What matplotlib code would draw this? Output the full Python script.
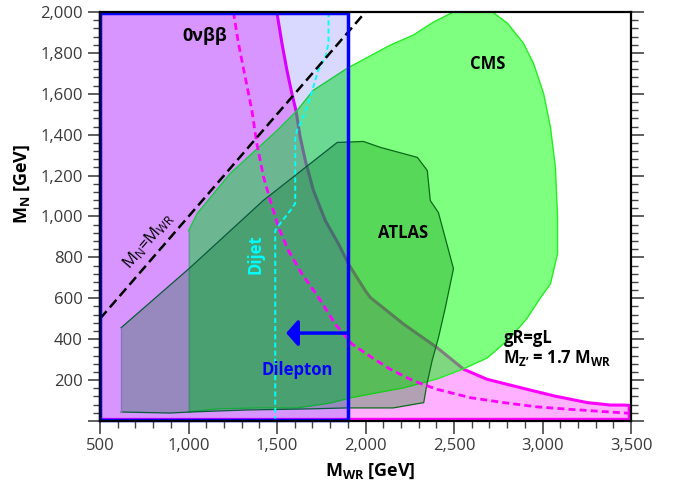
import matplotlib
matplotlib.use("Agg")
import matplotlib.pyplot as plt
from matplotlib.ticker import MultipleLocator, FuncFormatter
from matplotlib.patches import Polygon, Rectangle

plt.rcParams['font.family'] = ['Open Sans', 'DejaVu Sans']
plt.rcParams['mathtext.fontset'] = 'custom'
plt.rcParams['mathtext.rm'] = 'Open Sans'
plt.rcParams['mathtext.bf'] = 'Open Sans:bold'

# 0vbb excluded region, upper boundary (solid magenta)
bb_x = [1499, 1528, 1556, 1584, 1607, 1631, 1660, 1706, 1773, 1848, 1904, 1999, 2027,
        2215, 2404, 2555, 2687, 2876, 3064, 3253, 3385, 3460, 3490]
bb_y = [2000, 1846, 1715, 1601, 1519, 1388, 1274, 1127, 980, 865, 768, 637, 604,
        474, 359, 253, 204, 163, 123, 90, 78, 78, 76]

# dashed magenta curve
bbd_x = [1254, 1282, 1320, 1358, 1386, 1424, 1462, 1508, 1565, 1641, 1735, 1829, 1924,
         2037, 2140, 2272, 2404, 2593, 2781, 2970, 3158, 3347, 3488]
bbd_y = [2000, 1847, 1683, 1519, 1356, 1193, 1078, 948, 833, 719, 604, 474, 376,
         310, 253, 196, 155, 114, 90, 69, 57, 46, 38]

# dijet (cyan dashed)
dijet_x = [1490, 1490, 1518, 1575, 1603, 1603, 1613, 1648, 1688, 1733, 1773, 1791, 1791]
dijet_y = [0, 931, 966, 1029, 1064, 1387, 1421, 1485, 1583, 1715, 1779, 1848, 2000]

# CMS contour
cms_x = [1000, 1000, 1049, 1235, 1501, 1614, 1705, 1897, 2140, 2270, 2383, 2497, 2717,
         2802, 2892, 2949, 3006, 3045, 3073, 3085, 3085, 3045, 2989, 2915, 2819, 2689,
         2553, 2406, 2214, 2027, 1914, 1801, 1614, 1388, 1162]
cms_y = [45, 930, 1014, 1210, 1421, 1519, 1617, 1725, 1838, 1887, 1950, 2000, 2000,
         1945, 1847, 1749, 1602, 1436, 1240, 995, 818, 671, 603, 505, 407, 309,
         255, 206, 162, 132, 113, 88, 64, 64, 59]

# ATLAS contour
atlas_x = [619, 619, 1009, 1422, 1840, 1988, 2084, 2293, 2349, 2366, 2412, 2497, 2451,
           2412, 2376, 2347, 2329, 2157, 1897, 1671, 1331, 1009, 896]
atlas_y = [44, 456, 750, 1078, 1362, 1367, 1338, 1289, 1225, 1078, 1019, 745, 554,
           407, 294, 181, 90, 64, 64, 59, 54, 44, 39]

# dilepton bound and arrow
dilep_x = 1900
arrow_tip = 1552
arrow_y = 430

fig = plt.figure(figsize=(6.73, 4.87), dpi=100)
ax = fig.add_axes([0.1486, 0.1355, 0.789, 0.8399])
ax.set_xlim(500, 3500)
ax.set_ylim(0, 2000)

# pink 0vbb region
pts = [(500, 2000)] + list(zip(bb_x, bb_y)) + [(3490, 8), (500, 8)]
ax.add_patch(Polygon(pts, closed=True, facecolor=(1, 0, 1, 0.31),
                     edgecolor='magenta', lw=2.2, joinstyle='round', zorder=1))

# CMS
ax.add_patch(Polygon(list(zip(cms_x, cms_y)), closed=True, facecolor=(0, 1, 0, 0.5),
                     edgecolor='none', zorder=2))
ax.plot(cms_x[1:] + [cms_x[0]], cms_y[1:] + [cms_y[0]], color='#22ee22', lw=1, zorder=2.1)
ax.plot(cms_x[:2], cms_y[:2], color='#7fb08f', lw=1, zorder=2.1)

# ATLAS
ax.add_patch(Polygon(list(zip(atlas_x, atlas_y)), closed=True, facecolor=(0, 0.5, 0, 0.3),
                     edgecolor='none', zorder=3))
ax.plot(atlas_x[1:] + [atlas_x[0]], atlas_y[1:] + [atlas_y[0]], color='#0a6a1a', lw=0.9, zorder=3.1)
ax.plot(atlas_x[:2], atlas_y[:2], color='#9a8fb0', lw=1, zorder=3.1)

# dilepton box
ax.add_patch(Rectangle((500, 0), dilep_x - 500, 2000, facecolor=(0, 0, 1, 0.15),
                       edgecolor='none', zorder=4))
ax.add_patch(Rectangle((500, 5), dilep_x - 500, 1990, facecolor='none',
                       edgecolor='blue', lw=2.5, zorder=8, clip_on=False))

# lines
ax.plot(bbd_x, bbd_y, color='magenta', lw=2, ls=(0, (2.5, 1.5)), zorder=5)
ax.plot(dijet_x, dijet_y, color='cyan', lw=1.4, ls=(0, (2.6, 1.6)), zorder=5)
ax.plot([500, 2000], [500, 2000], color='black', lw=1.8, ls=(0, (4, 2)), zorder=6)

ax.annotate('', xy=(arrow_tip, arrow_y), xytext=(dilep_x, arrow_y),
            arrowprops=dict(arrowstyle='-|>,head_length=0.35,head_width=0.4',
                            color='blue', lw=2.5, mutation_scale=20,
                            shrinkA=0, shrinkB=0), zorder=7)

# labels
ax.text(1094, 1882, '0νββ', fontsize=13, fontweight='bold', ha='center', va='center', zorder=9)
ax.text(2689, 1744, 'CMS', fontsize=12, fontweight='bold', ha='center', va='center', zorder=9)
ax.text(2214, 921, 'ATLAS', fontsize=12, fontweight='bold', ha='center', va='center', zorder=9)
ax.text(1614, 250, 'Dilepton', fontsize=12, fontweight='bold', color='blue',
        ha='center', va='center', zorder=9)
ax.text(1377, 818, 'Dijet', fontsize=12, fontweight='bold', color='cyan', rotation=90,
        ha='center', va='center', zorder=9)
ax.text(771, 882, r'$\mathrm{M_N}$=$\mathrm{M_{WR}}$', fontsize=12, rotation=49,
        ha='center', va='center', zorder=9)
ax.text(2779, 407, 'gR=gL', fontsize=12, fontweight='bold', ha='left', va='center', zorder=9)
ax.text(2779, 309, r"$\mathbf{M_{Z’}}$ = 1.7 $\mathbf{M_{WR}}$", fontsize=12,
        fontweight='bold', ha='left', va='center', zorder=9)

# axes styling
ax.xaxis.set_major_locator(MultipleLocator(500))
ax.xaxis.set_minor_locator(MultipleLocator(100))
ax.yaxis.set_major_locator(MultipleLocator(200))
ax.yaxis.set_minor_locator(MultipleLocator(40))
ax.yaxis.set_major_formatter(FuncFormatter(lambda v, p: '' if v == 0 else f'{int(v):,}'))
ax.xaxis.set_major_formatter(FuncFormatter(lambda v, p: f'{int(v):,}'))
ax.tick_params(axis='both', which='major', labelsize=12, labelcolor='#3a3a3a',
               color='#444444', length=9, width=1.2, direction='out')
ax.tick_params(axis='both', which='minor', color='#444444', length=5, width=1, direction='out')
ax.tick_params(axis='y', which='both', right=True)
for sp in ax.spines.values():
    sp.set_linewidth(1.6)
    sp.set_zorder(10)

ax.set_xlabel(r'$\mathbf{M_{WR}}$ [GeV]', fontsize=13, fontweight='bold')
ax.set_ylabel(r'$\mathbf{M_{N}}$ [GeV]', fontsize=13, fontweight='bold')
ax.xaxis.set_label_coords(0.508, -0.1)
ax.yaxis.set_label_coords(-0.128, 0.58)

fig.savefig('out.png', dpi=100)
